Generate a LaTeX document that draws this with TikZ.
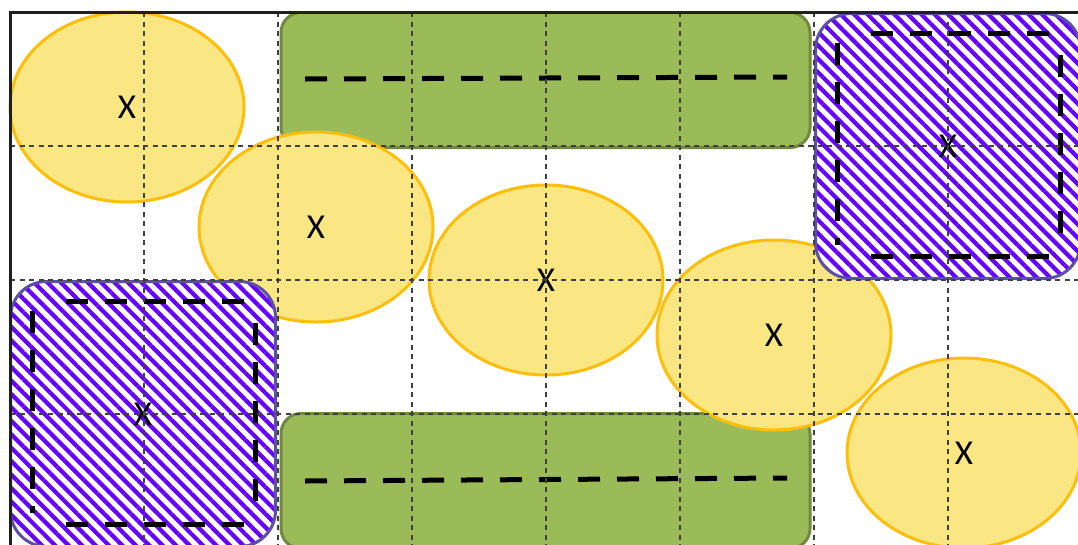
\documentclass[tikz,border=0pt]{standalone}
\usepackage{fontspec}
\setmainfont{Carlito}
\usetikzlibrary{shapes.geometric,patterns.meta}
\definecolor{ellfill}{HTML}{FAE682}
\definecolor{ellline}{HTML}{FFBE0A}
\definecolor{grn}{HTML}{9BBB59}
\definecolor{grnline}{HTML}{71893F}
\definecolor{hatch}{HTML}{6600FF}
\definecolor{hatchline}{HTML}{5C50A6}
\definecolor{gridc}{HTML}{404040}
\tikzset{
  ell/.style={ellipse, draw=ellline, fill=ellfill, line width=3pt,
    minimum width=234pt, minimum height=190pt, inner sep=0pt,
    font=\fontsize{35}{40}\selectfont},
  greenbox/.style={rectangle, rounded corners=20pt, draw=grnline, fill=grn,
    line width=3pt, minimum width=529pt, minimum height=135pt, inner sep=0pt},
  hatchbox/.style={rectangle, rounded corners=36pt, draw=hatchline, line width=3pt,
    preaction={fill=white},
    pattern={Lines[angle=-45,distance=9.5pt,line width=4.2pt]}, pattern color=hatch,
    minimum width=265pt, minimum height=265pt, inner sep=0pt,
    font=\fontsize{35}{40}\selectfont},
  innerdash/.style={line width=5pt, dash pattern=on 22pt off 17pt},
  gridline/.style={draw=gridc, line width=1.2pt, dash pattern=on 5pt off 4.5pt},
  frame/.style={line width=3pt, draw=black!88}
}
\begin{document}
\begin{tikzpicture}[x=1pt,y=-1pt]
\useasboundingbox (0,0) rectangle (1078,544);
\clip (0,0) rectangle (1078,544);
% green boxes
\node[greenbox] (g1) at (545.5,80) {};
\node[greenbox] (g2) at (545.5,481) {};
\coordinate (g1a) at (305,79); \coordinate (g1b) at (787,77);
\coordinate (g2a) at (305,481); \coordinate (g2b) at (787,478);
\draw[innerdash] (g1a) -- (g1b);
\draw[innerdash] (g2a) -- (g2b);
% ellipses
\node[ell] (e1) at (127,107) {X};
\node[ell] (e2) at (316,227) {X};
\node[ell] (e3) at (546,280) {X};
\node[ell] (e4) at (774,335) {X};
\node[ell] (e5) at (964,453) {X};
% hatched boxes
\node[hatchbox] (h1) at (948,146) {X};
\node[hatchbox] (h2) at (143,414) {X};
\foreach \c in {h1,h2}{
  \begin{scope}[shift={(\c.center)}]
    \draw[innerdash] (-77,-113) -- (101,-113);
    \draw[innerdash] (-77,110) -- (101,110);
    \draw[innerdash] (-110.5,-103) -- (-110.5,99);
    \draw[innerdash] (112.5,-91) -- (112.5,87);
  \end{scope}
}
% grid
\foreach \x in {144,278,412,546,680,814,948}
  \draw[gridline] (\x,12) -- (\x,560);
\foreach \y in {146,280,414}
  \draw[gridline] (10,\y) -- (1090,\y);
% frame
\draw[frame] (10,560) -- (10,12) -- (1090,12);
\end{tikzpicture}
\end{document}
